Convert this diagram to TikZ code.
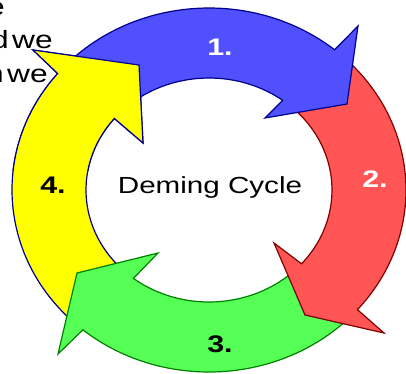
\documentclass[tikz,border=0pt]{standalone}
\usepackage{fontspec}
\setmainfont{Liberation Sans}[FakeStretch=1.27]
\usetikzlibrary{calc}
\definecolor{bluefill}{RGB}{80,80,255}
\definecolor{redfill}{RGB}{255,85,85}
\definecolor{greenfill}{RGB}{85,255,85}
\definecolor{yellowfill}{RGB}{255,255,0}
\definecolor{navyline}{RGB}{0,0,140}
\definecolor{redline}{RGB}{128,0,0}
\definecolor{greenline}{RGB}{0,128,0}
\begin{document}
\begin{tikzpicture}[x=1pt,y=-1pt,
  ringarrow/.style={line width=1.2pt, line join=miter},
  bluearrow/.style={ringarrow, fill=bluefill, draw=navyline},
  redarrow/.style={ringarrow, fill=redfill, draw=redline},
  greenarrow/.style={ringarrow, fill=greenfill, draw=greenline},
  yellowarrow/.style={ringarrow, fill=yellowfill, draw=navyline},
  numlabel/.style={inner sep=0pt, anchor=base, font=\fontsize{24}{28}\selectfont\bfseries},
  cornertext/.style={inner sep=0pt, anchor=base east, font=\fontsize{25}{30}\selectfont}]
\useasboundingbox (0,0) rectangle (406,373);
\clip (0,0) rectangle (406,373);
\coordinate (C) at (209,190);
% partially visible text at top left
\node[cornertext] (t1) at (5,15) {e};
\node[cornertext] (t2) at (53,48) {d\hspace{3.5pt}we};
\node[cornertext] (t3) at (48,82) {n\hspace{3.5pt}we};
% yellow arrow (4)
\path[yellowarrow] ($(C)+(129.8:197 and 182)$) arc[start angle=129.8, end angle=219.8, x radius=197, y radius=182] -- (33,50) -- (139,65) -- (143,143) -- ($(C)+(219.7:123 and 112)$) arc[start angle=219.7, end angle=127.9, x radius=123, y radius=112] -- cycle;
% green arrow (3)
\path[greenarrow] ($(C)+(41.1:197 and 182)$) arc[start angle=41.1, end angle=129.8, x radius=197, y radius=182] -- (58,354) -- (77,273) -- (158,253) -- ($(C)+(127.9:123 and 112)$) arc[start angle=127.9, end angle=41.2, x radius=123, y radius=112] -- cycle;
% red arrow (2)
\path[redarrow] ($(C)+(-50.4:197 and 182)$) arc[start angle=-50.4, end angle=41.1, x radius=197, y radius=182] -- (384,333) -- (305,315) -- (274,243) -- ($(C)+(41.2:123 and 112)$) arc[start angle=41.2, end angle=-53.2, x radius=123, y radius=112] -- cycle;
% blue arrow (1)
\path[bluearrow] ($(C)+(-140.2:197 and 182)$) arc[start angle=-140.2, end angle=-50.4, x radius=197, y radius=182] -- (358,26) -- (347,104) -- (265,118) -- ($(C)+(-53.2:123 and 112)$) arc[start angle=-53.2, end angle=-140.3, x radius=123, y radius=112] -- cycle;
% yellow head again on top of blue tail
\begin{scope}
\clip (0,0) rectangle (200,170);
\path[yellowarrow] ($(C)+(129.8:197 and 182)$) arc[start angle=129.8, end angle=219.8, x radius=197, y radius=182] -- (33,50) -- (139,65) -- (143,143) -- ($(C)+(219.7:123 and 112)$) arc[start angle=219.7, end angle=127.9, x radius=123, y radius=112] -- cycle;
\end{scope}
% labels
\node[numlabel, text=white] (l1) at (220,55.7) {1.};
\node[numlabel, text=white] (l2) at (375,187) {2.};
\node[numlabel] (l3) at (220,352) {3.};
\node[numlabel] (l4) at (53,193) {4.};
\node[inner sep=0pt, anchor=base, font=\fontsize{23.3}{28}\selectfont] (title) at (210,193.3) {Deming Cycle};
\end{tikzpicture}
\end{document}
